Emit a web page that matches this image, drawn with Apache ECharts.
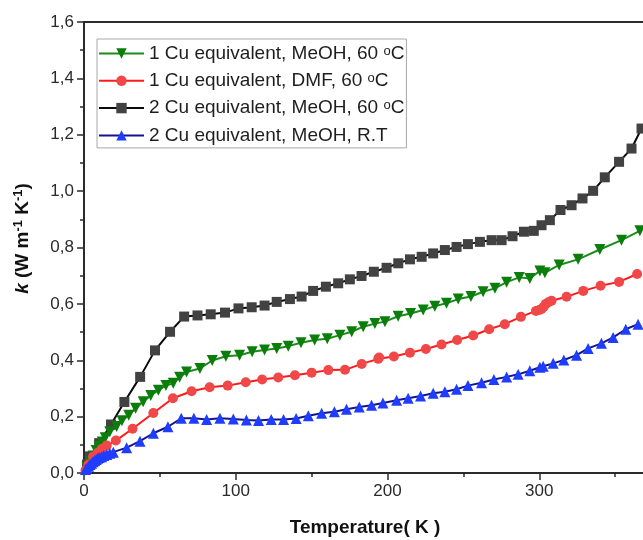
<!DOCTYPE html>
<html>
<head>
<meta charset="utf-8">
<title>Thermal conductivity vs temperature</title>
<script src="https://cdn.jsdelivr.net/npm/echarts@6/dist/echarts.min.js"></script>
<style>
  html, body { margin: 0; padding: 0; background: #fff; }
  #chart { width: 643px; height: 540px; }
</style>
</head>
<body>
<div id="chart"></div>
<script>
// Series labels
const seriesNames = [
  '1 Cu equivalent, MeOH, 60 oC',
  '1 Cu equivalent, DMF, 60 oC',
  '2 Cu equivalent, MeOH, 60 oC',
  '2 Cu equivalent, MeOH, R.T'
];

// Axis ticks
const xTicks = [0, 100, 200, 300, 400];
const yTicks = [0, 0.2, 0.4, 0.6, 0.8, 1.0, 1.2, 1.4, 1.6];

// 1 Cu equivalent, MeOH, 60 °C
const tempCu1MeOH = [2, 4, 6, 8, 10, 12, 14, 17, 21.5, 25, 29.5, 34, 39, 44, 49, 54, 58.8, 63, 67.6, 76.4, 84.5, 93.5, 102.5, 110.8, 119, 127, 134.6, 143, 152, 160.3, 168.6, 176.4, 184, 191.7, 198.3, 207, 215.2, 223.5, 231.2, 238.9, 246.6, 255, 263, 270.8, 278.5, 286.8, 293.8, 300.4, 303.7, 313.1, 325.6, 339.9, 354.2, 366.3];
const kCu1MeOH = [0.02, 0.04, 0.06, 0.08, 0.095, 0.11, 0.125, 0.146, 0.165, 0.185, 0.205, 0.23, 0.253, 0.275, 0.294, 0.31, 0.318, 0.34, 0.358, 0.371, 0.399, 0.414, 0.418, 0.43, 0.436, 0.442, 0.45, 0.462, 0.472, 0.476, 0.489, 0.501, 0.519, 0.53, 0.537, 0.556, 0.566, 0.578, 0.592, 0.602, 0.617, 0.626, 0.643, 0.655, 0.677, 0.694, 0.69, 0.717, 0.71, 0.738, 0.758, 0.793, 0.826, 0.859];

// 1 Cu equivalent, DMF, 60 °C
const tempCu1DMF = [1, 3, 6, 9, 11.7, 15, 21, 32, 45.7, 58.6, 70.9, 82.8, 94.7, 106.6, 117.4, 128, 139, 150, 161, 172, 183, 193.9, 194.5, 204.2, 214.8, 225.3, 235.6, 245.9, 256.5, 267, 277.3, 287.9, 297.8, 300, 301.5, 303, 304.3, 306, 308.1, 318, 329, 340.4, 352.6, 364.5];
const kCu1DMF = [0.01, 0.03, 0.058, 0.072, 0.085, 0.098, 0.115, 0.157, 0.213, 0.265, 0.29, 0.304, 0.31, 0.322, 0.332, 0.339, 0.347, 0.356, 0.365, 0.366, 0.387, 0.405, 0.41, 0.413, 0.427, 0.44, 0.456, 0.472, 0.488, 0.51, 0.528, 0.554, 0.575, 0.578, 0.582, 0.59, 0.6, 0.606, 0.611, 0.625, 0.646, 0.664, 0.678, 0.706];

// 2 Cu equivalent, MeOH, 60 °C
const tempCu2MeOH = [2, 4, 10, 17.8, 26.6, 37, 46.8, 56.7, 66, 74.8, 83.5, 92.9, 101.8, 110.5, 119, 127, 135.7, 143.4, 151, 159.4, 167.5, 175.2, 182.9, 191, 199.4, 207.1, 214.8, 222.5, 230.1, 237.8, 245.5, 253, 260.9, 268.6, 275.2, 282.4, 289.9, 296.4, 301.5, 307, 314, 321.3, 328.5, 335.5, 343.2, 352.6, 360.8, 367.4];
const kCu2MeOH = [0.03, 0.059, 0.106, 0.172, 0.252, 0.341, 0.435, 0.501, 0.555, 0.559, 0.563, 0.569, 0.584, 0.588, 0.594, 0.607, 0.617, 0.626, 0.646, 0.661, 0.673, 0.687, 0.699, 0.714, 0.728, 0.744, 0.758, 0.767, 0.779, 0.791, 0.802, 0.812, 0.82, 0.826, 0.826, 0.84, 0.856, 0.859, 0.879, 0.897, 0.933, 0.95, 0.974, 1.001, 1.049, 1.104, 1.151, 1.222];

// 2 Cu equivalent, MeOH, room temperature
const tempCu2RT = [1, 2, 3, 4, 5, 6, 7, 8, 9, 10, 11.6, 13, 15, 17, 19.3, 28.1, 36.9, 45.7, 55.3, 64.1, 72.4, 80.8, 89.6, 98.4, 107, 115, 123.4, 131.5, 139.8, 147.8, 156.6, 165, 173, 181.4, 189.5, 197, 206, 213.6, 221.8, 230.1, 237.8, 245.5, 253, 262, 270.1, 278.5, 286.1, 293.8, 300.4, 302.6, 309.2, 316.2, 324.6, 332.2, 341, 348.7, 357, 365.1];
const kCu2RT = [0.012, 0.018, 0.024, 0.03, 0.035, 0.04, 0.044, 0.048, 0.052, 0.055, 0.058, 0.062, 0.066, 0.07, 0.074, 0.09, 0.113, 0.141, 0.164, 0.194, 0.194, 0.19, 0.194, 0.192, 0.188, 0.186, 0.19, 0.19, 0.193, 0.203, 0.212, 0.217, 0.226, 0.234, 0.24, 0.248, 0.258, 0.265, 0.273, 0.283, 0.288, 0.297, 0.31, 0.32, 0.332, 0.341, 0.35, 0.363, 0.375, 0.379, 0.389, 0.401, 0.418, 0.442, 0.46, 0.481, 0.51, 0.528];

const zip = (xs, ys) => xs.map((x, i) => [x, ys[i]]);
const FONT = '"Liberation Sans", Arial, sans-serif';
const decimalComma = v => v.toFixed(1).replace('.', ',');

function lineSeries(name, data, symbol, size, fill, line, extra) {
  return Object.assign({
    name: name,
    type: 'line',
    data: data,
    symbol: symbol,
    symbolSize: size,
    showSymbol: true,
    clip: true,
    animation: false,
    itemStyle: { color: fill, opacity: 1 },
    lineStyle: { color: line, width: 2 },
    emphasis: { disabled: true }
  }, extra || {});
}

const chart = echarts.init(document.getElementById('chart'), null, { renderer: 'canvas' });

const axisLineStyle = { color: '#2b2b2b', width: 2 };

chart.setOption({
  backgroundColor: '#ffffff',
  animation: false,
  textStyle: { fontFamily: FONT },
  // The temperature axis runs to 400 K; the plot frame continues past the right edge of the canvas.
  grid: { left: 84, top: 22, width: 607, height: 451, containLabel: false, outerBoundsMode: 'none' },
  legend: {
    left: 97,
    top: 39,
    orient: 'vertical',
    data: [seriesNames[0], seriesNames[1], seriesNames[2], seriesNames[3]],
    backgroundColor: '#ffffff',
    borderColor: '#a8a8a8',
    borderWidth: 1,
    padding: [5, 2, 3, 1],
    itemGap: 8.3,
    itemWidth: 45,
    itemHeight: 13,
    selectedMode: false,
    formatter: n => n.replace(' oC', ' {sup|o}C'),
    textStyle: {
      fontFamily: FONT,
      fontSize: 19,
      color: '#1e1e1e',
      lineHeight: 18,
      rich: {
        sup: { fontSize: 13, verticalAlign: 'top', lineHeight: 18, fontFamily: FONT, color: '#1e1e1e' }
      }
    }
  },
  xAxis: [
    {
      type: 'value',
      position: 'bottom',
      min: xTicks[0],
      max: xTicks[xTicks.length - 1],
      interval: xTicks[1] - xTicks[0],
      name: 'Temperature( K )',
      nameLocation: 'middle',
      nameGap: 45,
      nameTextStyle: { fontFamily: FONT, fontSize: 19, fontWeight: 'bold', color: '#111', padding: [0, 45, 0, 0] },
      axisLine: { show: true, onZero: false, lineStyle: axisLineStyle },
      axisTick: { show: true, inside: false, length: 7, lineStyle: { color: '#2b2b2b', width: 1.5 } },
      minorTick: { show: true, splitNumber: 2, length: 4, lineStyle: { color: '#2b2b2b', width: 1.5 } },
      splitLine: { show: false },
      axisLabel: { fontFamily: FONT, fontSize: 17, color: '#2a2a2a', margin: 10 }
    },
    {
      type: 'value',
      position: 'top',
      min: xTicks[0],
      max: xTicks[xTicks.length - 1],
      interval: xTicks[1] - xTicks[0],
      axisLine: { show: true, onZero: false, lineStyle: axisLineStyle },
      axisTick: { show: false },
      axisLabel: { show: false },
      splitLine: { show: false }
    }
  ],
  yAxis: {
    type: 'value',
    min: yTicks[0],
    max: yTicks[yTicks.length - 1],
    interval: yTicks[1] - yTicks[0],
    name: '{i|k} (W m{s|-1} K{s|-1})',
    nameLocation: 'middle',
    nameRotate: 90,
    nameGap: 50,
    nameTextStyle: {
      fontFamily: FONT, fontSize: 19, fontWeight: 'bold', color: '#111',
      padding: [0, 0, 0, 18],
      rich: {
        i: { fontFamily: FONT, fontSize: 19, fontWeight: 'bold', fontStyle: 'italic', color: '#111', lineHeight: 22 },
        s: { fontFamily: FONT, fontSize: 13, fontWeight: 'bold', color: '#111', verticalAlign: 'top', lineHeight: 22 }
      }
    },
    axisLine: { show: true, onZero: false, lineStyle: axisLineStyle },
    axisTick: { show: true, inside: false, length: 7, lineStyle: { color: '#2b2b2b', width: 1.5 } },
    minorTick: { show: true, splitNumber: 2, length: 4, lineStyle: { color: '#2b2b2b', width: 1.5 } },
    splitLine: { show: false },
    axisLabel: { fontFamily: FONT, fontSize: 17, color: '#2a2a2a', margin: 10, formatter: decimalComma }
  },
  series: [
    lineSeries(seriesNames[2], zip(tempCu2MeOH, kCu2MeOH), 'rect', 10, '#424242', '#0a0a0a'),
    lineSeries(seriesNames[0], zip(tempCu1MeOH, kCu1MeOH), 'triangle', 11, '#0b7d0b', '#1a8c1a', { symbolRotate: 180 }),
    lineSeries(seriesNames[1], zip(tempCu1DMF, kCu1DMF), 'circle', 10, '#f04848', '#ff1a1a'),
    lineSeries(seriesNames[3], zip(tempCu2RT, kCu2RT), 'triangle', 11, '#1f3dff', '#14148c')
  ]
});
</script>
</body>
</html>
